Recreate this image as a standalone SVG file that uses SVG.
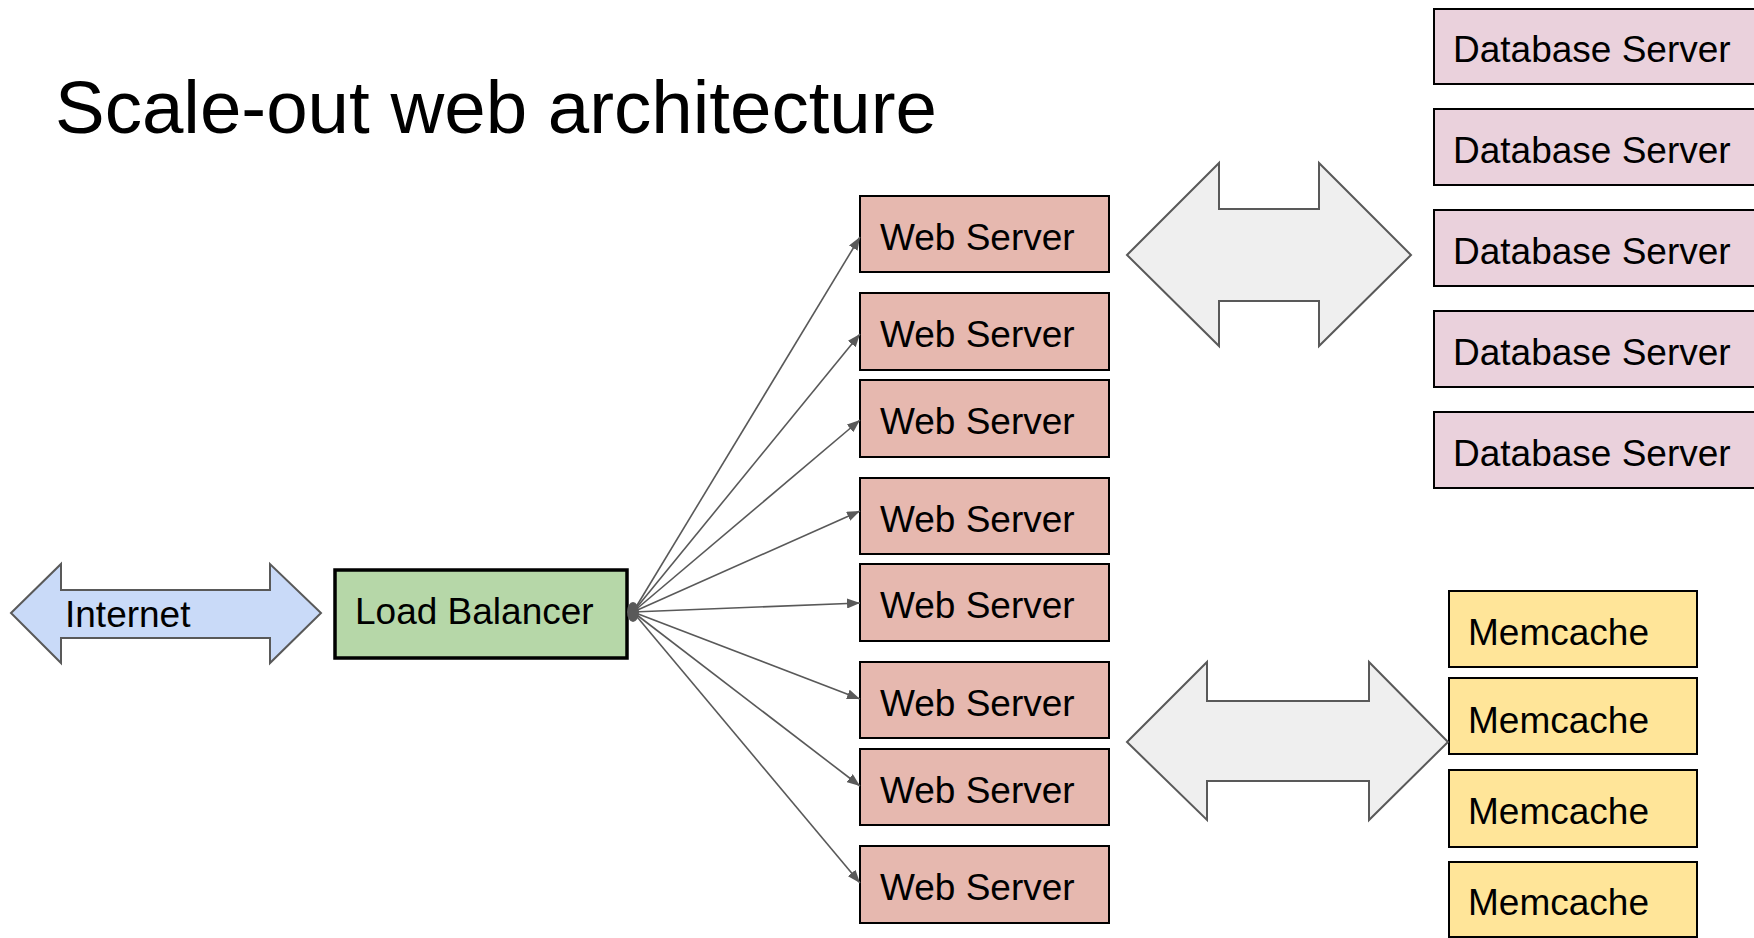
<svg xmlns="http://www.w3.org/2000/svg" width="1754" height="938" viewBox="0 0 1754 938">
<defs>
<style>
text{font-family:"Liberation Sans",Arial,sans-serif;fill:#000;}
.lbl{font-size:37px;}
.box{stroke:#000;stroke-width:2;}
.web{fill:#e6b8af;}
.db{fill:#ead1dc;}
.mc{fill:#ffe599;}
.big{fill:#efefef;stroke:#595959;stroke-width:2;stroke-linejoin:miter;}
.conn line{stroke:#595959;stroke-width:1.6;fill:none;marker-end:url(#ah);}
</style>
<marker id="ah" markerUnits="userSpaceOnUse" markerWidth="14" markerHeight="10" refX="13" refY="5" orient="auto" viewBox="0 0 14 10">
<path d="M0,0 L13,5 L0,10 Z" fill="#595959"/>
</marker>
</defs>
<rect width="1754" height="938" fill="#fff"/>
<text x="55" y="133" style="font-size:74.5px">Scale-out web architecture</text>

<g id="internet">
<polygon points="11,613 61,564 61,590 270,590 270,564 321,613 270,663 270,638 61,638 61,663" fill="#c9daf8" stroke="#595959" stroke-width="2"/>
<text class="lbl" x="65" y="627">Internet</text>
</g>

<g id="load-balancer">
<rect x="335" y="570" width="292" height="88" fill="#b6d7a8" stroke="#000" stroke-width="3.5"/>
<text class="lbl" x="355" y="624">Load Balancer</text>
</g>

<g id="web1"><rect class="box web" x="860" y="196" width="249" height="76"/><text class="lbl" x="880" y="250">Web Server</text></g>
<g id="web2"><rect class="box web" x="860" y="293" width="249" height="77"/><text class="lbl" x="880" y="347">Web Server</text></g>
<g id="web3"><rect class="box web" x="860" y="380" width="249" height="77"/><text class="lbl" x="880" y="434">Web Server</text></g>
<g id="web4"><rect class="box web" x="860" y="478" width="249" height="76"/><text class="lbl" x="880" y="532">Web Server</text></g>
<g id="web5"><rect class="box web" x="860" y="564" width="249" height="77"/><text class="lbl" x="880" y="618">Web Server</text></g>
<g id="web6"><rect class="box web" x="860" y="662" width="249" height="76"/><text class="lbl" x="880" y="716">Web Server</text></g>
<g id="web7"><rect class="box web" x="860" y="749" width="249" height="76"/><text class="lbl" x="880" y="803">Web Server</text></g>
<g id="web8"><rect class="box web" x="860" y="846" width="249" height="77"/><text class="lbl" x="880" y="900">Web Server</text></g>

<g id="db1"><rect class="box db" x="1434" y="9" width="340" height="75"/><text class="lbl" x="1453" y="62">Database Server</text></g>
<g id="db2"><rect class="box db" x="1434" y="109" width="340" height="76"/><text class="lbl" x="1453" y="163">Database Server</text></g>
<g id="db3"><rect class="box db" x="1434" y="210" width="340" height="76"/><text class="lbl" x="1453" y="264">Database Server</text></g>
<g id="db4"><rect class="box db" x="1434" y="311" width="340" height="76"/><text class="lbl" x="1453" y="365">Database Server</text></g>
<g id="db5"><rect class="box db" x="1434" y="412" width="340" height="76"/><text class="lbl" x="1453" y="466">Database Server</text></g>

<g id="mc1"><rect class="box mc" x="1449" y="591" width="248" height="76"/><text class="lbl" x="1468" y="645">Memcache</text></g>
<g id="mc2"><rect class="box mc" x="1449" y="678" width="248" height="76"/><text class="lbl" x="1468" y="733">Memcache</text></g>
<g id="mc3"><rect class="box mc" x="1449" y="770" width="248" height="77"/><text class="lbl" x="1468" y="824">Memcache</text></g>
<g id="mc4"><rect class="box mc" x="1449" y="862" width="248" height="75"/><text class="lbl" x="1468" y="915">Memcache</text></g>

<g id="web-db-arrow">
<polygon class="big" points="1127,255 1219,163 1219,209 1319,209 1319,163 1411,255 1319,346 1319,301 1219,301 1219,346"/>
</g>
<g id="web-memcache-arrow">
<polygon class="big" points="1127,742 1207,662 1207,701 1369,701 1369,662 1448,742 1369,820 1369,781 1207,781 1207,820"/>
</g>

<g id="connectors" class="conn">
<line x1="633" y1="612" x2="860" y2="237"/>
<line x1="633" y1="612" x2="860" y2="334"/>
<line x1="633" y1="612" x2="860" y2="420"/>
<line x1="633" y1="612" x2="860" y2="511"/>
<line x1="633" y1="612" x2="860" y2="603"/>
<line x1="633" y1="612" x2="860" y2="699"/>
<line x1="633" y1="612" x2="860" y2="786"/>
<line x1="633" y1="612" x2="860" y2="883"/>
<ellipse cx="633" cy="612" rx="6" ry="10" fill="#595959"/>
</g>
</svg>
